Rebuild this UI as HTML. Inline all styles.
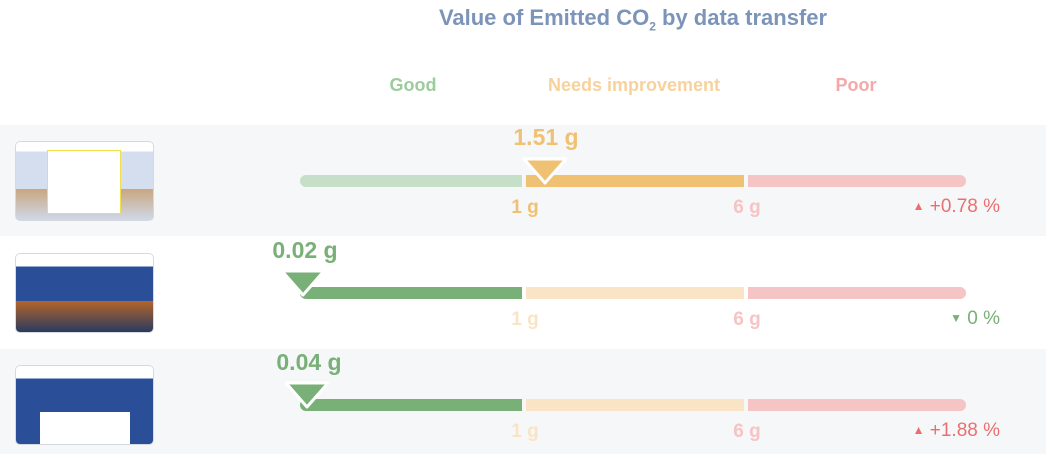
<!DOCTYPE html>
<html><head><meta charset="utf-8"><style>
body{margin:0;width:1046px;height:454px;background:#fff;font-family:"Liberation Sans",sans-serif;position:relative;overflow:hidden}
.a{position:absolute}
.t{position:absolute;font-weight:bold;white-space:nowrap}
.band{position:absolute;left:0;width:1046px;background:#f6f7f9}
.thumb{position:absolute;left:15px;width:137px;height:78px;border:1px solid #d6dae0;border-radius:5px;overflow:hidden;background:#2a4f98}
.seg{position:absolute;height:12px}
.pct{position:absolute;font-size:19px;white-space:nowrap;right:46px}
</style></head><body>
<div class="t" style="left:633px;top:5px;color:#7b94b8;font-size:22px;transform:translateX(-50%)">Value of Emitted CO<sub style="font-size:12px">2</sub> by data transfer</div>
<div class="t" style="left:413px;top:75px;color:#9ccc9c;font-size:18px;transform:translateX(-50%)">Good</div>
<div class="t" style="left:634px;top:75px;color:#f7d29c;font-size:18px;transform:translateX(-50%)">Needs improvement</div>
<div class="t" style="left:856px;top:75px;color:#f4a8a8;font-size:18px;transform:translateX(-50%)">Poor</div>

<div class="band" style="top:125px;height:111px"></div>
<div class="band" style="top:349px;height:105px"></div>

<div class="thumb" style="top:141px;background:linear-gradient(#fff 0 12%,#d5deee 12% 60%,#c9a680 60%,#cfd8e8)"><div class="a" style="left:31px;top:8px;width:72px;height:62px;background:#fff;border:1px solid #f2e04a"></div></div>
<div class="thumb" style="top:253px;background:linear-gradient(#fff 0 16%,#2a4f98 16% 60%,#b5652a 60%,#2a3a60)"></div>
<div class="thumb" style="top:365px;background:linear-gradient(#fff 0 16%,#2a4f98 16%)"><div class="a" style="left:24px;top:46px;width:90px;height:34px;background:#fff"></div></div>

<div class="seg" style="left:300px;top:175px;width:222px;background:#c5dfc8;border-radius:6px 0 0 6px"></div>
<div class="seg" style="left:526px;top:175px;width:218px;background:#f0c073"></div>
<div class="seg" style="left:748px;top:175px;width:218px;background:#f5c4c4;border-radius:0 6px 6px 0"></div>
<svg class="a" style="left:521px;top:155px" width="48" height="34"><polygon points="3,4 45,4 24,28" fill="#f0c073" stroke="#fff" stroke-width="3" stroke-linejoin="round"/></svg>
<div class="t" style="left:546px;top:124px;font-size:23px;color:#f0c073;transform:translateX(-50%)">1.51 g</div>
<div class="t" style="left:525px;top:197px;font-size:19px;color:#f0c073;transform:translateX(-50%)">1 g</div>
<div class="t" style="left:747px;top:197px;font-size:19px;color:#f5c4c4;transform:translateX(-50%)">6 g</div>
<div class="pct" style="top:196px;color:#ea7070"><span style="font-size:12px;vertical-align:2px">▲</span> +0.78 %</div>

<div class="seg" style="left:300px;top:287px;width:222px;background:#78b077;border-radius:6px 0 0 6px"></div>
<div class="seg" style="left:526px;top:287px;width:218px;background:#f9e4c6"></div>
<div class="seg" style="left:748px;top:287px;width:218px;background:#f5c4c4;border-radius:0 6px 6px 0"></div>
<svg class="a" style="left:279px;top:267px" width="48" height="34"><polygon points="3,4 45,4 24,28" fill="#78b077" stroke="#fff" stroke-width="3" stroke-linejoin="round"/></svg>
<div class="t" style="left:305px;top:237px;font-size:23px;color:#78b077;transform:translateX(-50%)">0.02 g</div>
<div class="t" style="left:525px;top:309px;font-size:19px;color:#f9e4c6;transform:translateX(-50%)">1 g</div>
<div class="t" style="left:747px;top:309px;font-size:19px;color:#f5c4c4;transform:translateX(-50%)">6 g</div>
<div class="pct" style="top:308px;color:#78b077"><span style="font-size:12px;vertical-align:2px">▼</span> 0 %</div>

<div class="seg" style="left:300px;top:399px;width:222px;background:#78b077;border-radius:6px 0 0 6px"></div>
<div class="seg" style="left:526px;top:399px;width:218px;background:#f9e4c6"></div>
<div class="seg" style="left:748px;top:399px;width:218px;background:#f5c4c4;border-radius:0 6px 6px 0"></div>
<svg class="a" style="left:283px;top:379px" width="48" height="34"><polygon points="3,4 45,4 24,28" fill="#78b077" stroke="#fff" stroke-width="3" stroke-linejoin="round"/></svg>
<div class="t" style="left:309px;top:349px;font-size:23px;color:#78b077;transform:translateX(-50%)">0.04 g</div>
<div class="t" style="left:525px;top:421px;font-size:19px;color:#f9e4c6;transform:translateX(-50%)">1 g</div>
<div class="t" style="left:747px;top:421px;font-size:19px;color:#f5c4c4;transform:translateX(-50%)">6 g</div>
<div class="pct" style="top:420px;color:#ea7070"><span style="font-size:12px;vertical-align:2px">▲</span> +1.88 %</div>
</body></html>
